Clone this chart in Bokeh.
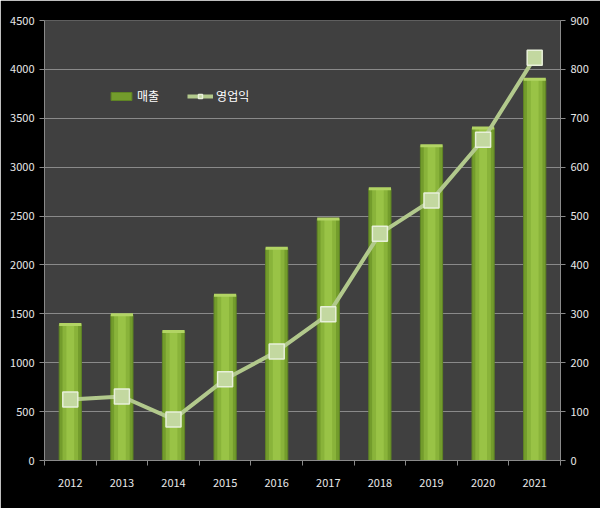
from bokeh.plotting import figure
from bokeh.models import (Range1d, LinearAxis, FixedTicker, Legend, LegendItem,
                          ColumnDataSource)
from bokeh.embed import file_html
from bokeh.resources import INLINE

years = ["2012", "2013", "2014", "2015", "2016", "2017", "2018", "2019", "2020", "2021"]
sales = [1390, 1490, 1320, 1690, 2170, 2470, 2780, 3220, 3400, 3900]
op_profit = [125, 131, 84, 166, 223, 299, 464, 532, 656, 824]
left_ticks = [0, 500, 1000, 1500, 2000, 2500, 3000, 3500, 4000, 4500]
right_ticks = [0, 100, 200, 300, 400, 500, 600, 700, 800, 900]

xpos = [i + 0.5 for i in range(len(years))]
src = ColumnDataSource(dict(x=xpos, sales=sales, op=op_profit))

FONT = "Noto Sans CJK KR"
AX = "#8a8a8a"

p = figure(width=600, height=508, output_backend="svg", toolbar_location=None,
           x_range=Range1d(0, len(years)), y_range=Range1d(0, 4500),
           min_border_left=44, min_border_right=40, min_border_top=20,
           min_border_bottom=48)
p.background_fill_color = "#404040"
p.border_fill_color = "#000000"
p.outline_line_color = None
p.extra_y_ranges = {"r": Range1d(0, 900)}

# bars (layered for a shaded look)
w = 0.43
b1 = p.vbar(x="x", top="sales", width=w, source=src, fill_color="#739c2c", line_color="#5f8424")
p.vbar(x="x", top="sales", width=w * 0.7, source=src, fill_color="#89b33a", line_color=None)
p.vbar(x="x", top="sales", width=w * 0.35, source=src, fill_color="#99c346", line_color=None)
p.rect(x="x", y="sales", width=w, height=3, height_units="screen", source=src,
       fill_color="#b2d464", line_color=None)

# line
l1 = p.line(x="x", y="op", source=src, y_range_name="r", line_color="#b2c98c", line_width=4)
s1 = p.scatter(x="x", y="op", source=src, y_range_name="r", marker="square", size=15,
               fill_color="#c3d8a0", line_color="#e8f0da", line_width=1.5)

# axes
p.xaxis.ticker = FixedTicker(ticks=xpos, minor_ticks=list(range(len(years) + 1)))
p.xaxis.major_label_overrides = {xv: y for xv, y in zip(xpos, years)}
p.xaxis.major_tick_line_color = None
p.xaxis.minor_tick_line_color = AX
p.xaxis.minor_tick_out = 5
p.xaxis.minor_tick_in = 0
p.xaxis.axis_line_color = AX
p.xaxis.major_label_standoff = 12

p.yaxis.ticker = FixedTicker(ticks=left_ticks)
p.yaxis.minor_tick_line_color = None
p.yaxis.major_tick_line_color = AX
p.yaxis.major_tick_out = 5
p.yaxis.major_tick_in = 0
p.yaxis.axis_line_color = AX

ra = LinearAxis(y_range_name="r", ticker=FixedTicker(ticks=right_ticks))
ra.minor_tick_line_color = None
ra.major_tick_line_color = AX
ra.major_tick_out = 5
ra.major_tick_in = 0
ra.axis_line_color = AX
p.add_layout(ra, "right")

for ax in [p.xaxis[0], p.yaxis[0], ra]:
    ax.major_label_text_color = "#e8e8e8"
    ax.major_label_text_font = FONT
    ax.major_label_text_font_size = "11px"

p.xgrid.grid_line_color = None
p.ygrid.ticker = FixedTicker(ticks=left_ticks)
p.ygrid.grid_line_color = "#8a8a8a"
p.ygrid.grid_line_width = 1

legend = Legend(items=[LegendItem(label="매출", renderers=[b1]),
                       LegendItem(label="영업익", renderers=[l1, s1])],
                location=(64, 356), orientation="horizontal")
legend.background_fill_alpha = 0
legend.border_line_color = None
legend.label_text_color = "#ffffff"
legend.label_text_font = FONT
legend.label_text_font_size = "12px"
legend.glyph_width = 26
legend.glyph_height = 10
legend.spacing = 28
legend.label_standoff = 3
p.add_layout(legend, "center")

open("out.html", "w").write(file_html(p, INLINE))
